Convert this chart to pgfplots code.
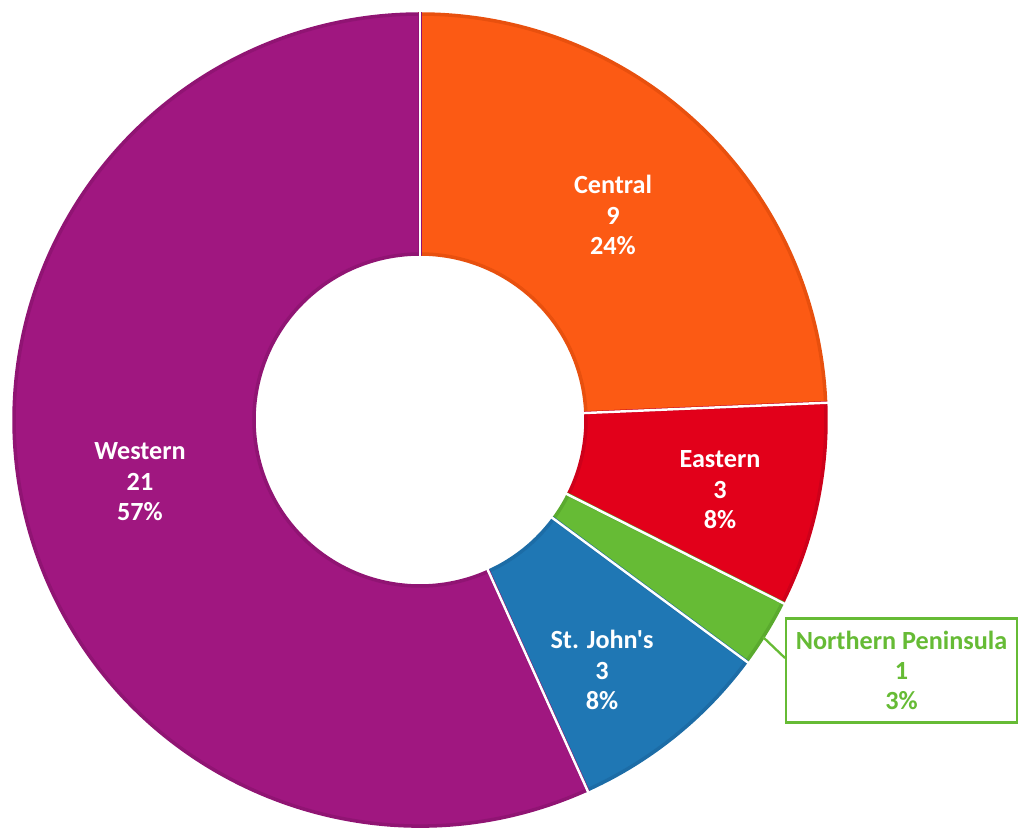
\documentclass[border=0pt]{standalone}
\usepackage{pgfplots}
\pgfplotsset{compat=1.18}
\usepackage{pgfplotstable}
\usepackage{fontspec}
\setmainfont{Carlito}[Ligatures=TeXOff]

\definecolor{cenF}{RGB}{252,90,20}
\definecolor{cenD}{RGB}{232,80,14}
\definecolor{eaF}{RGB}{226,0,26}
\definecolor{eaD}{RGB}{206,0,26}
\definecolor{npF}{RGB}{102,187,53}
\definecolor{npD}{RGB}{90,170,46}
\definecolor{sjF}{RGB}{31,119,180}
\definecolor{sjD}{RGB}{28,108,166}
\definecolor{weF}{RGB}{160,23,128}
\definecolor{weD}{RGB}{144,20,115}

% slices clockwise from the top; lx, ly = label centre in picture pixels
\pgfplotstableread[col sep=comma]{
name,value,fill,edge,lab,lx,ly
Central,9,cenF,cenD,inlab,613,612
Eastern,3,eaF,eaD,inlab,720,337
Northern Peninsula,1,npF,npD,boxlab,901.5,156.5
St. John's,3,sjF,sjD,inlab,602,157
Western,21,weF,weD,inlab,140,345
}\donut

\tikzset{
  lbl/.style={align=center, font=\fontsize{14.9}{17.3}\selectfont\bfseries},
  inlab/.style={lbl, text=white},
  boxlab/.style={lbl, text=npF, draw=npF, line width=1.4pt, fill=white,
    minimum width=4.62cm, minimum height=2.08cm, inner sep=0pt},
}

\begin{document}
\begin{tikzpicture}
\pgfplotstablegetrowsof{\donut}
\pgfmathtruncatemacro\last{\pgfplotsretval-1}
\def\total{0}
\pgfplotsforeachungrouped \i in {0,...,\last} {%
  \pgfplotstablegetelem{\i}{value}\of\donut
  \pgfmathsetmacro\total{\total+\pgfplotsretval}%
}
\begin{axis}[scale only axis, width=20.38cm, height=16.54cm,
    xmin=0, xmax=1019, ymin=0, ymax=827, axis lines=none]
  % slices
  \def\angA{90}
  \pgfplotsforeachungrouped \i in {0,...,\last} {%
    \pgfplotstablegetelem{\i}{value}\of\donut \let\v\pgfplotsretval
    \pgfplotstablegetelem{\i}{fill}\of\donut \let\cf\pgfplotsretval
    \pgfplotstablegetelem{\i}{edge}\of\donut \let\cd\pgfplotsretval
    \pgfmathsetmacro\angB{\angA-360*\v/\total}%
    \pgfmathsetmacro\xa{420+406*cos(\angA)}%
    \pgfmathsetmacro\ya{407+406*sin(\angA)}%
    \pgfmathsetmacro\xb{420+166*cos(\angB)}%
    \pgfmathsetmacro\yb{407+166*sin(\angB)}%
    \edef\slice{\noexpand\filldraw[fill=\cf, draw=\cd, line width=2pt]
      (axis cs:\xa,\ya) arc[start angle=\angA, end angle=\angB, radius=8.12cm]
      -- (axis cs:\xb,\yb) arc[start angle=\angB, end angle=\angA, radius=3.32cm]
      -- cycle;}%
    \slice
    \let\angA\angB
  }
  % white separators and labels
  \def\angA{90}
  \pgfplotsforeachungrouped \i in {0,...,\last} {%
    \pgfplotstablegetelem{\i}{value}\of\donut \let\v\pgfplotsretval
    \pgfplotstablegetelem{\i}{name}\of\donut \let\nm\pgfplotsretval
    \pgfplotstablegetelem{\i}{lab}\of\donut \let\st\pgfplotsretval
    \pgfplotstablegetelem{\i}{lx}\of\donut \let\lx\pgfplotsretval
    \pgfplotstablegetelem{\i}{ly}\of\donut \let\ly\pgfplotsretval
    \pgfmathtruncatemacro\pct{round(100*\v/\total)}%
    \pgfmathsetmacro\xa{420+409*cos(\angA)}%
    \pgfmathsetmacro\ya{407+409*sin(\angA)}%
    \pgfmathsetmacro\xb{420+163*cos(\angA)}%
    \pgfmathsetmacro\yb{407+163*sin(\angA)}%
    \pgfmathsetmacro\angB{\angA-360*\v/\total}%
    \edef\sep{\noexpand\draw[white, line width=1.4pt]
      (axis cs:\xb,\yb) -- (axis cs:\xa,\ya);
      \noexpand\node[\st] at (axis cs:\lx,\ly) {\nm\noexpand\\\v\noexpand\\\pct\%};}%
    \sep
    \let\angA\angB
  }
  \draw[npF, line width=1.3pt] (axis cs:763,190) -- (axis cs:785,169);
\end{axis}
\pgfresetboundingbox
\useasboundingbox (current axis.south west) rectangle (current axis.north east);
\end{tikzpicture}
\end{document}
